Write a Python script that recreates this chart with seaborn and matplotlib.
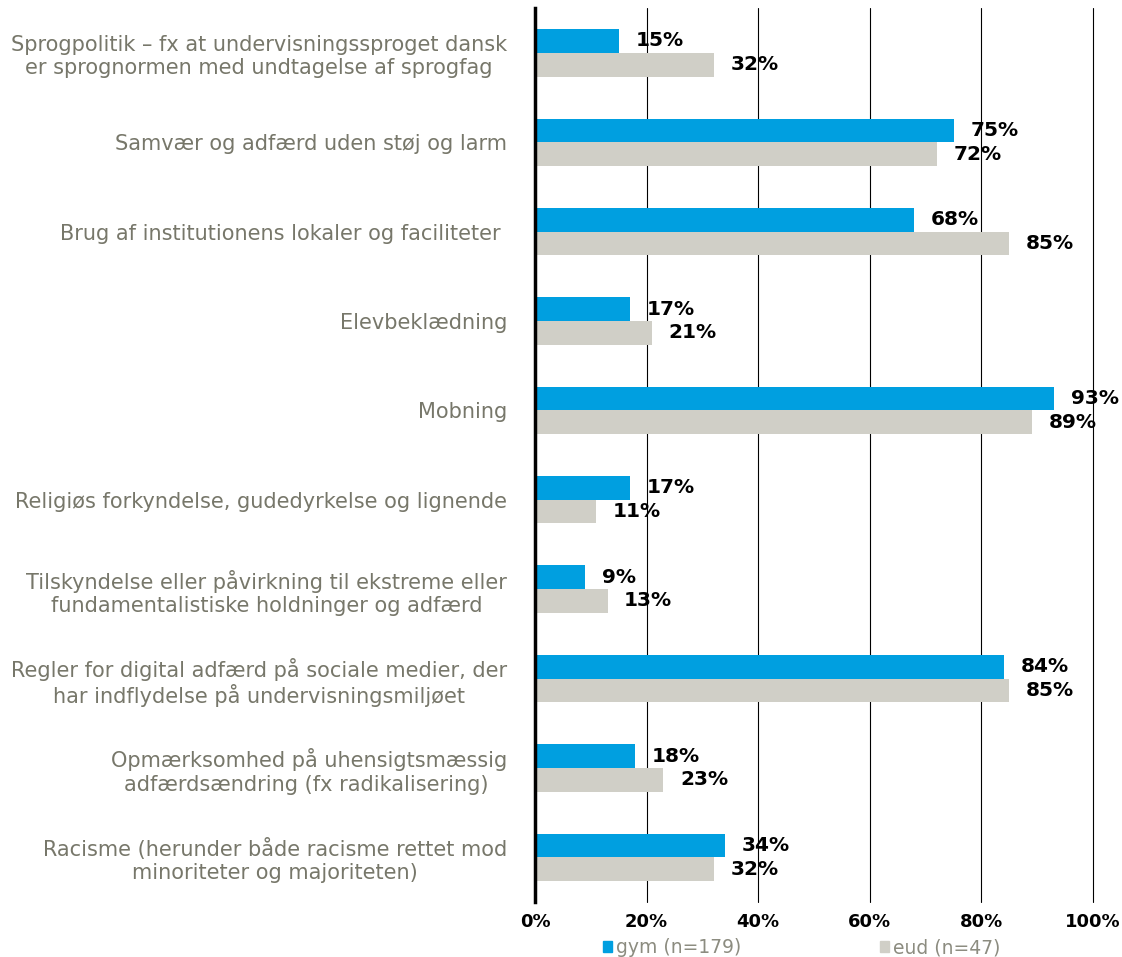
import pandas as pd
import seaborn as sns
import matplotlib.pyplot as plt
from matplotlib.ticker import PercentFormatter

# data
categories = [
    "Sprogpolitik \u2013 fx at undervisningssproget dansk\ner sprognormen med undtagelse af sprogfag",
    "Samv\u00e6r og adf\u00e6rd uden st\u00f8j og larm",
    "Brug af institutionens lokaler og faciliteter ",
    "Elevbekl\u00e6dning",
    "Mobning",
    "Religi\u00f8s forkyndelse, gudedyrkelse og lignende",
    "Tilskyndelse eller p\u00e5virkning til ekstreme eller\nfundamentalistiske holdninger og adf\u00e6rd",
    "Regler for digital adf\u00e6rd p\u00e5 sociale medier, der\nhar indflydelse p\u00e5 undervisningsmilj\u00f8et",
    "Opm\u00e6rksomhed p\u00e5 uhensigtsm\u00e6ssig\nadf\u00e6rds\u00e6ndring (fx radikalisering) ",
    "Racisme (herunder b\u00e5de racisme rettet mod\nminoriteter og majoriteten)",
]
gym = [15, 75, 68, 17, 93, 17, 9, 84, 18, 34]
eud = [32, 72, 85, 21, 89, 11, 13, 85, 23, 32]
series = ["gym (n=179)", "eud (n=47)"]
colors = ["#009FE0", "#D0CFC7"]

df = pd.DataFrame({
    "kategori": categories * 2,
    "gruppe": [series[0]] * len(gym) + [series[1]] * len(eud),
    "andel": gym + eud,
})

sns.set_style("white")
plt.rcParams["font.family"] = ["DejaVu Sans"]

fig = plt.figure(figsize=(11.22, 9.57), dpi=100)
ax = fig.add_axes([0.4768, 0.0575, 0.4974, 0.934])

sns.barplot(data=df, y="kategori", x="andel", hue="gruppe", orient="h",
            palette=colors, width=0.53, saturation=1, linewidth=0,
            ax=ax, legend=False)

for cont in ax.containers:
    ax.bar_label(cont, fmt="%d%%", padding=12, fontsize=14.5,
                 fontweight="bold", color="black")

ax.set_xlim(0, 100)
ax.set_xticks(range(0, 101, 20))
ax.xaxis.set_major_formatter(PercentFormatter(decimals=0))
ax.grid(axis="x", color="black", linewidth=0.8)
for gl in ax.get_xgridlines():
    gl.set_clip_on(False)
ax.set_axisbelow(True)
ax.set_xlabel("")
ax.set_ylabel("")

for s in ["top", "right", "bottom"]:
    ax.spines[s].set_visible(False)
ax.spines["left"].set_linewidth(2.5)
ax.spines["left"].set_color("black")

ax.tick_params(axis="y", length=0, pad=20)
ax.tick_params(axis="x", length=0, pad=8)
for lbl in ax.get_yticklabels():
    lbl.set_fontsize(15)
    lbl.set_color("#77776A")
    lbl.set_multialignment("center")
for lbl in ax.get_xticklabels():
    lbl.set_fontsize(13)
    lbl.set_fontweight("bold")
    lbl.set_color("black")

handles = [plt.Rectangle((0, 0), 1, 1, color=c) for c in colors]
fig.legend(handles, series, loc="lower left", bbox_to_anchor=(0.522, -0.018),
           ncol=2, frameon=False, fontsize=13.5, labelcolor="#8C8C80",
           handlelength=0.5, handleheight=0.5, handletextpad=0.2,
           columnspacing=7.4)

fig.savefig("out.png", dpi=100)
